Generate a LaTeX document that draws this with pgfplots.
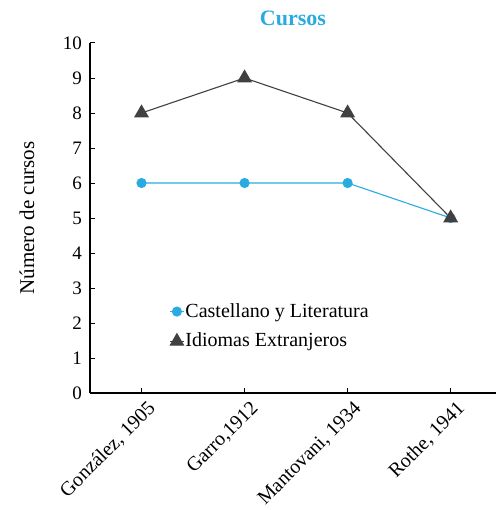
\documentclass[border=0pt]{standalone}
\usepackage{pgfplots}
\pgfplotsset{compat=1.18}
\usepackage{fontspec}
\setmainfont{Liberation Serif}
\definecolor{cblue}{RGB}{41,171,226}
\definecolor{cgray}{RGB}{64,64,64}
\begin{document}
\fontsize{19bp}{22bp}\selectfont
\begin{tikzpicture}
\path (-90bp,-117bp) rectangle (406bp,393bp);
\begin{axis}[
  anchor=south west, at={(0,0)},
  scale only axis, width=406bp, height=350bp,
  xmin=-0.5, xmax=3.44, ymin=0, ymax=10,
  axis lines=left, axis line style={line width=1.3pt, -},
  xtick={0,1,2,3}, xticklabels={{González, 1905},{Garro,1912},{Mantovani, 1934},{Rothe, 1941}},
  ytick={0,1,...,10},
  tick align=inside, major tick length=5bp,
  tick style={line width=1pt, black},
  /pgf/number format/assume math mode=true,
  xticklabel style={font=\fontsize{20bp}{24bp}\selectfont, rotate=45, anchor=north east, inner sep=1bp, yshift=-7bp, xshift=0bp},
  yticklabel style={font=\fontsize{19bp}{22bp}\selectfont, inner sep=3bp, xshift=-5bp},
  ylabel={Número de cursos},
  ylabel style={font=\fontsize{21bp}{24bp}\selectfont, at={(rel axis cs:0,0.5)}, anchor=center, yshift=63bp},
  title={Cursos},
  title style={font=\fontsize{22bp}{24bp}\selectfont\bfseries, text=cblue, at={(rel axis cs:0.5,1)}, anchor=center, yshift=19bp},
  clip=false,
  legend style={at={(rel axis cs:0.195,0.26)}, anchor=north west, draw=none, fill=none,
    font=\fontsize{20bp}{24bp}\selectfont, row sep=11bp, inner sep=0pt, nodes={inner sep=1bp}},
  legend cell align=left,
  legend image code/.code={\draw[#1, mark repeat=2, mark phase=2] plot coordinates {(0bp,0bp)(7bp,0bp)(14bp,0bp)};},
]
\addplot[color=cblue, line width=1.1pt, mark=*, mark size=4.5bp, mark options={solid, fill=cblue}] coordinates {(0,6)(1,6)(2,6)(3,5)};
\addlegendentry{Castellano y Literatura}
\addplot[color=cgray, line width=1.1pt, mark=triangle*, mark size=7.5bp, mark options={solid, fill=cgray}] coordinates {(0,8)(1,9)(2,8)(3,5)};
\addlegendentry{Idiomas Extranjeros}
\end{axis}
\end{tikzpicture}
\end{document}
